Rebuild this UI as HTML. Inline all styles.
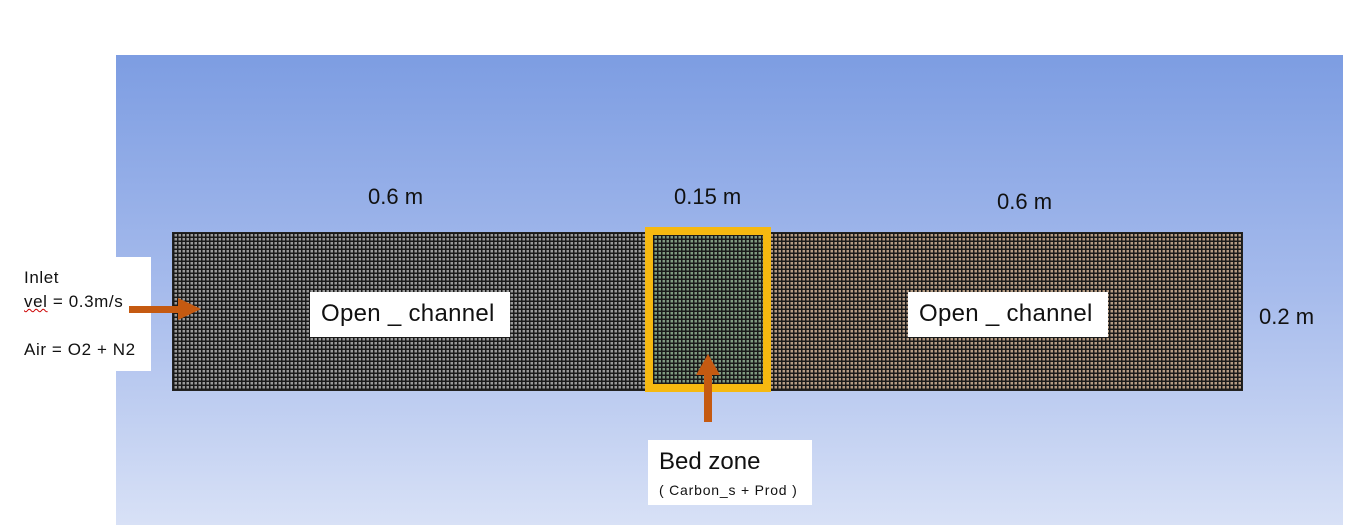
<!DOCTYPE html>
<html><head><style>
body{margin:0;width:1371px;height:525px;background:#fff;position:relative;overflow:hidden;font-family:"Liberation Sans",sans-serif;}
.bg{position:absolute;left:116px;top:55px;width:1227px;height:470px;background:linear-gradient(#7d9de2,#a6bbec 50%,#d8e1f6);}
.mesh{position:absolute;top:232px;height:159px;box-sizing:border-box;border:1px solid #222;}
.g{background-image:repeating-linear-gradient(90deg,#1a1a1a 0 1.5px,transparent 1.5px 4px),repeating-linear-gradient(0deg,#1a1a1a 0 1.5px,transparent 1.5px 4px);}
.t{position:absolute;color:#111;white-space:nowrap;}
.box{position:absolute;background:#fff;}
</style></head><body>
<div class="bg"></div>
<div class="mesh g" style="left:172px;width:476px;background-color:#9a9a9a"></div>
<div class="mesh g" style="left:768px;width:475px;background-color:#b59c84"></div>
<div class="mesh g" style="left:645px;width:126px;top:227px;height:165px;border:8px solid #f6b910;background-color:#7f9a80"></div>
<div class="box" style="left:0;top:257px;width:151px;height:114px"></div>
<div class="t" style="left:24px;top:266px;font-size:17px;line-height:24px;letter-spacing:0.6px">Inlet<br><span style="text-decoration:underline wavy #c00;text-decoration-thickness:1px">vel</span> = 0.3m/s<br><br>Air = O2 + N2</div>
<svg style="position:absolute;left:0;top:0" width="1371" height="525">
<path d="M129 306 H178 V298 L201 309 L178 320 V313 H129 Z" fill="#c55a11"/>
<path d="M704 422 V375 H696 L708 354 L720 375 H712 V422 Z" fill="#c55a11"/>
</svg>
<div class="box" style="left:310px;top:292px;width:200px;height:45px"></div>
<div class="t" style="left:321px;top:300px;font-size:24px;letter-spacing:0.3px">Open _ channel</div>
<div class="box" style="left:908px;top:292px;width:200px;height:45px"></div>
<div class="t" style="left:919px;top:300px;font-size:24px;letter-spacing:0.3px">Open _ channel</div>
<div class="t" style="left:368px;top:184px;font-size:22px">0.6 m</div>
<div class="t" style="left:674px;top:184px;font-size:22px">0.15 m</div>
<div class="t" style="left:997px;top:189px;font-size:22px">0.6 m</div>
<div class="t" style="left:1259px;top:304px;font-size:22px">0.2 m</div>
<div class="box" style="left:648px;top:440px;width:164px;height:65px"></div>
<div class="t" style="left:659px;top:448px;font-size:24px">Bed zone</div>
<div class="t" style="left:659px;top:482px;font-size:14px;letter-spacing:0.8px">( Carbon_s + Prod )</div>
</body></html>
